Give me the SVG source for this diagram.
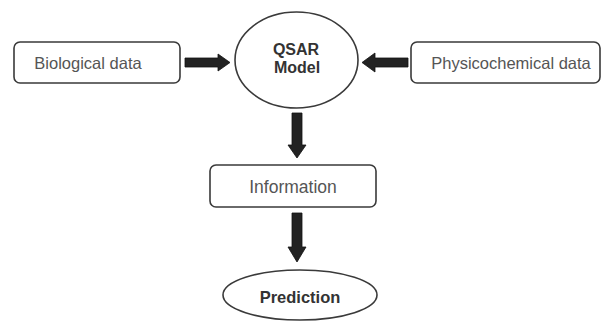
<svg xmlns="http://www.w3.org/2000/svg" width="603" height="322" viewBox="0 0 603 322">
<style>
.box{fill:#fff;stroke:#3a3a3a;stroke-width:1.6}
.lbl{font-family:"Liberation Sans",Arial,sans-serif;font-size:16.5px;fill:#555;text-anchor:middle}
.bold{font-family:"Liberation Sans",Arial,sans-serif;font-size:16px;font-weight:bold;fill:#333;text-anchor:middle}
.arr{fill:#222;stroke:#111;stroke-width:0.8}
</style>
<rect width="603" height="322" fill="#fff"/>
<g id="connectors">
<polygon class="arr" points="185,58 218,58 218,54 230,62.5 218,71 218,67 185,67"/>
<polygon class="arr" points="408,58 375,58 375,53 362,62.5 375,72 375,67 408,67"/>
<polygon class="arr" points="292,113 302,113 302,145 306,145 297,158 288,145 292,145"/>
<polygon class="arr" points="292,213 302,213 302,247 306,247 297,262 288,247 292,247"/>
</g>
<g id="biological">
<rect class="box" x="14" y="42" width="166" height="41" rx="6"/>
<text class="lbl" x="88" y="69">Biological data</text>
</g>
<g id="qsar">
<ellipse class="box" cx="296.5" cy="60" rx="61.5" ry="48"/>
<text class="bold" x="296" y="55">QSAR</text>
<text class="bold" x="297" y="73">Model</text>
</g>
<g id="physicochemical">
<rect class="box" x="411" y="42" width="189" height="41" rx="6"/>
<text class="lbl" x="511" y="69">Physicochemical data</text>
</g>
<g id="information">
<rect class="box" x="210" y="165" width="166" height="42" rx="6"/>
<text class="lbl" x="293" y="193" style="font-size:17.5px">Information</text>
</g>
<g id="prediction">
<ellipse class="box" cx="300" cy="295" rx="77" ry="25"/>
<text class="bold" x="300" y="303" style="font-size:16.5px">Prediction</text>
</g>
</svg>
